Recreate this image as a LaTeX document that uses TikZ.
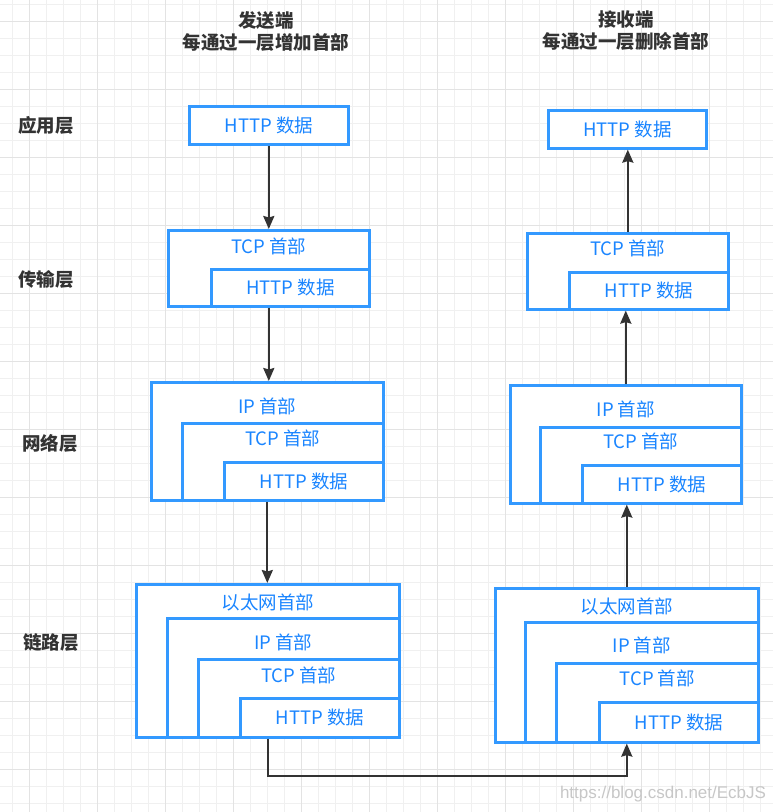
\documentclass[tikz,border=0pt]{standalone}
\usepackage{fontspec}
\setmainfont{Noto Sans CJK SC}
\newfontfamily\markfont{Liberation Sans}
\usepackage{xcolor}
\usetikzlibrary{arrows.meta,positioning}

\definecolor{boxblue}{HTML}{3399FF}
\definecolor{txtblue}{HTML}{1A85FF}
\definecolor{darktxt}{HTML}{333333}

\begin{document}
\begin{tikzpicture}[
  x=1pt, y=-1pt,
  >=Stealth,
  gridminor/.style={line width=0.7pt, black!6},
  gridmajor/.style={line width=0.9pt, black!11},
  pkt/.style={draw=boxblue, line width=2.6pt, anchor=north west, inner sep=0pt, fill=white},
  hdr/.style={font=\fontsize{18.5}{20}\selectfont, text=txtblue, inner sep=0pt},
  title/.style={font=\fontsize{18.5}{22}\selectfont\bfseries, text=darktxt, align=center},
  layer/.style={font=\fontsize{18.5}{20}\selectfont\bfseries, text=darktxt},
  arr/.style={->, line width=2.2pt, darktxt, >={Stealth[length=13pt,width=11pt,inset=1.5pt]}},
]
  \useasboundingbox (0,0) rectangle (773,812);
  \fill[white] (0,0) rectangle (773,812);

  % background grid
  \foreach \x in {12,29,...,773} \draw[gridminor] (\x,0) -- (\x,812);
  \foreach \y in {4,21,...,812} \draw[gridminor] (0,\y) -- (773,\y);
  \foreach \x in {29,97,...,773} \draw[gridmajor] (\x,0) -- (\x,812);
  \foreach \y in {21,89,...,812} \draw[gridmajor] (0,\y) -- (773,\y);

  % column titles
  \node[title] (sendtitle) at (266,31) {发送端\\每通过一层增加首部};
  \node[title] (recvtitle) at (626,31) {接收端\\每通过一层删除首部};

  % layer names
  \node[layer] (appl) at (46,125) {应用层};
  \node[layer] (tranl) at (46,279) {传输层};
  \node[layer] (netl) at (50,443) {网络层};
  \node[layer] (linkl) at (51,643) {链路层};

  % sender side
  \node[pkt, minimum width=159, minimum height=38] (sa) at (188,105) {};
  \node[hdr] at (sa.center) {HTTP 数据};

  \node[pkt, minimum width=201, minimum height=76] (st) at (167,229) {};
  \node[pkt, minimum width=158, minimum height=37] (sth) at (210,268) {};
  \node[hdr] at ([yshift=-17]st.north) {TCP 首部};
  \node[hdr] at (sth.center) {HTTP 数据};

  \node[pkt, minimum width=232, minimum height=118] (sn) at (150,381) {};
  \node[pkt, minimum width=201, minimum height=77] (snt) at (181,422) {};
  \node[pkt, minimum width=159, minimum height=38] (snh) at (223,461) {};
  \node[hdr] at ([yshift=-25]sn.north) {IP 首部};
  \node[hdr] at ([yshift=-16]snt.north) {TCP 首部};
  \node[hdr] at (snh.center) {HTTP 数据};

  \node[pkt, minimum width=263, minimum height=153] (sl) at (135,583) {};
  \node[pkt, minimum width=232, minimum height=119] (slp) at (166,617) {};
  \node[pkt, minimum width=201, minimum height=78] (slt) at (197,658) {};
  \node[pkt, minimum width=159, minimum height=39] (slh) at (239,697) {};
  \node[hdr] at ([yshift=-19]sl.north) {以太网首部};
  \node[hdr] at ([yshift=-25]slp.north) {IP 首部};
  \node[hdr] at ([yshift=-17]slt.north) {TCP 首部};
  \node[hdr] at (slh.center) {HTTP 数据};

  % receiver side
  \node[pkt, minimum width=158, minimum height=38] (ra) at (547,109) {};
  \node[hdr] at (ra.center) {HTTP 数据};

  \node[pkt, minimum width=201, minimum height=76] (rt) at (526,232) {};
  \node[pkt, minimum width=159, minimum height=37] (rth) at (568,271) {};
  \node[hdr] at ([yshift=-16]rt.north) {TCP 首部};
  \node[hdr] at (rth.center) {HTTP 数据};

  \node[pkt, minimum width=231, minimum height=118] (rn) at (509,384) {};
  \node[pkt, minimum width=201, minimum height=76] (rnt) at (539,426) {};
  \node[pkt, minimum width=159, minimum height=38] (rnh) at (581,464) {};
  \node[hdr] at ([yshift=-25]rn.north) {IP 首部};
  \node[hdr] at ([yshift=-15]rnt.north) {TCP 首部};
  \node[hdr] at (rnh.center) {HTTP 数据};

  \node[pkt, minimum width=263, minimum height=154] (rl) at (494,587) {};
  \node[pkt, minimum width=233, minimum height=120] (rlp) at (524,621) {};
  \node[pkt, minimum width=202, minimum height=79] (rlt) at (555,662) {};
  \node[pkt, minimum width=159, minimum height=40] (rlh) at (598,701) {};
  \node[hdr] at ([yshift=-19]rl.north) {以太网首部};
  \node[hdr] at ([yshift=-24]rlp.north) {IP 首部};
  \node[hdr] at ([yshift=-16]rlt.north) {TCP 首部};
  \node[hdr] at (rlh.center) {HTTP 数据};

  % sender: down the stack
  \draw[arr] (sa.south) -- (sa.south |- st.north);
  \draw[arr] (st.south) -- (st.south |- sn.north);
  \draw[arr] (sn.south) -- (sn.south |- sl.north);

  % over the wire
  \draw[arr] (sl.south) -- ++(0,37) -| (rl.south);

  % receiver: up the stack
  \draw[arr] (rl.north) -- (rl.north |- rn.south);
  \draw[arr] (rn.north) -- (rn.north |- rt.south);
  \draw[arr] (rt.north) -- (rt.north |- ra.south);

  % watermark
  \node[font=\markfont\fontsize{17}{18}\selectfont, text=black!22] (mark) at (663,794) {https://blog.csdn.net/EcbJS};
\end{tikzpicture}
\end{document}
